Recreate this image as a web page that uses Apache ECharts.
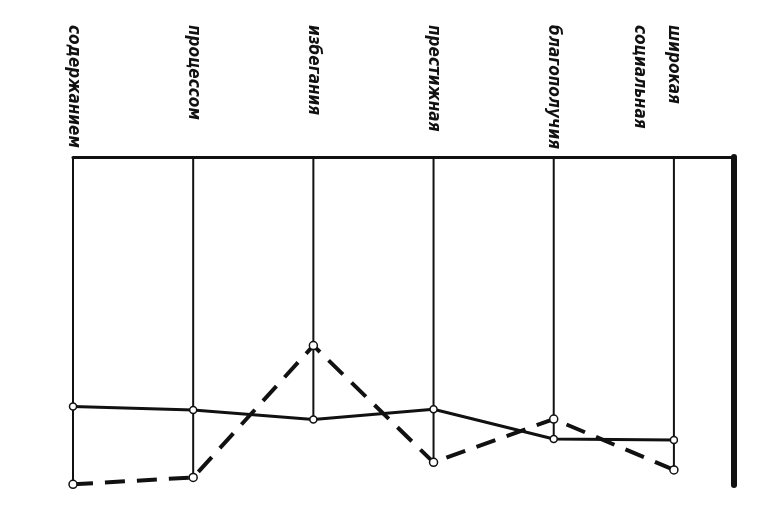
<!DOCTYPE html>
<html>
<head>
<meta charset="utf-8">
<script src="https://cdn.jsdelivr.net/npm/echarts@6/dist/echarts.min.js"></script>
<style>html,body{margin:0;padding:0;background:#fff;}#c{width:774px;height:510px;}</style>
</head>
<body>
<div id="c"></div>
<script>
const categories = ['содержанием', 'процессом', 'избегания', 'престижная', 'благополучия', 'широкая\nсоциальная'];
const solidValues = [23.9, 22.9, 20.0, 23.1, 14.0, 13.7];
const dashedValues = [0.2, 2.3, 42.5, 6.9, 20.1, 4.6];
const yMax = 100;

const chart = echarts.init(document.getElementById('c'));
const dropData = categories.map((c, i) => [i, Math.min(solidValues[i], dashedValues[i])]);

chart.setOption({
  backgroundColor: '#ffffff',
  animation: false,
  grid: { left: 73, right: 40, top: 157, bottom: 25, containLabel: false, outerBoundsMode: 'none' },
  xAxis: {
    type: 'value', position: 'top', min: 0, max: 5.5, interval: 1,
    axisLine: { show: true, onZero: false, lineStyle: { color: '#111', width: 3 } },
    axisTick: { show: false },
    splitLine: { show: false },
    axisLabel: {
      show: true, rotate: 90, align: 'left', verticalAlign: 'middle', margin: 132,
      color: '#111', fontSize: 17, fontStyle: 'italic', fontWeight: 'bold',
      fontFamily: 'Liberation Sans Narrow, DejaVu Sans Condensed, sans-serif',
      lineHeight: 34,
      formatter: function (v) {
        const i = Math.round(v);
        if (Math.abs(v - i) > 1e-6 || i < 0 || i >= categories.length) return '';
        const t = categories[i];
        return t.indexOf('\n') >= 0 ? '\n' + t : t;
      }
    }
  },
  yAxis: [
    { type: 'value', min: 0, max: yMax, show: false },
    { type: 'value', min: 0, max: yMax, position: 'right',
      axisLine: { show: true, onZero: false, lineStyle: { color: '#111', width: 6 } },
      axisTick: { show: false }, axisLabel: { show: false }, splitLine: { show: false } }
  ],
  series: [
    {
      type: 'custom', data: dropData, silent: true, z: 1,
      renderItem: function (params, api) {
        const p0 = api.coord([api.value(0), api.value(1)]);
        const p1 = api.coord([api.value(0), yMax]);
        return { type: 'line', shape: { x1: p0[0], y1: p0[1], x2: p1[0], y2: p1[1] },
          style: { stroke: '#111', lineWidth: 2 } };
      }
    },
    {
      type: 'line', data: dashedValues.map((v, i) => [i, v]), z: 3,
      lineStyle: { color: '#111', width: 4, type: [20, 12] },
      symbol: 'circle', symbolSize: 8,
      itemStyle: { color: '#fff', borderColor: '#111', borderWidth: 1.5 }
    },
    {
      type: 'line', data: solidValues.map((v, i) => [i, v]), z: 4,
      lineStyle: { color: '#111', width: 3 },
      symbol: 'circle', symbolSize: 7,
      itemStyle: { color: '#fff', borderColor: '#111', borderWidth: 1.5 }
    }
  ]
});
</script>
</body>
</html>
